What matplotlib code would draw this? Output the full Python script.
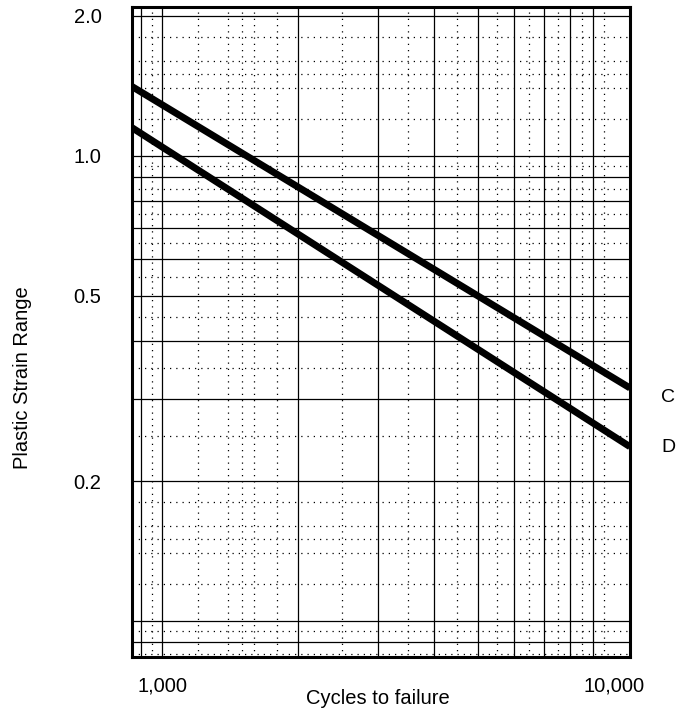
import matplotlib.pyplot as plt
import numpy as np

plt.rcParams['font.family'] = ['Liberation Sans', 'DejaVu Sans']

# curves: value at the left and right edges of the frame
cycles = [858, 10850]
curve_c = [1.41, 0.317]
curve_d = [1.15, 0.237]
curve_names = ['C', 'D']

x_ticks = [1000, 10000]
x_ticklabels = ['1,000', '10,000']
y_ticks = [0.2, 0.5, 1.0, 2.0]
y_ticklabels = ['0.2', '0.5', '1.0', '2.0']

W, H = 687, 710
fig = plt.figure(figsize=(W / 100, H / 100), dpi=100)
ax = fig.add_axes([132 / W, 1 - 657 / H, 498 / W, 650 / H])
ax.set_xscale('log')
ax.set_yscale('log')
ax.set_xlim(858, 10850)
ax.set_ylim(0.0837, 2.09)

# log grid, solid on the integer steps, dotted in between
solid_x = [k * 10 ** n for n in (2, 3) for k in range(1, 10)]
dot_x = [(k + 0.5) * 10 ** n for n in (2, 3) for k in range(1, 10)]
dot_x += [k * 10 ** n for n in (2, 3) for k in (1.2, 1.4, 1.6, 1.8)]
solid_y = [k * 10.0 ** n for n in (-2, -1, 0) for k in range(1, 10)]
dot_y = [(k + 0.5) * 10.0 ** n for n in (-2, -1, 0) for k in range(1, 10)]
dot_y += [k * 10.0 ** n for n in (-2, -1, 0) for k in (1.2, 1.4, 1.6, 1.8)]

for v in solid_x:
    ax.axvline(v, color='black', lw=0.9, zorder=1)
for v in dot_x:
    ax.axvline(v, color='black', lw=0.9, ls=(0, (1, 4)), zorder=1)
for v in solid_y:
    ax.axhline(v, color='black', lw=0.9, zorder=1)
for v in dot_y:
    ax.axhline(v, color='black', lw=0.9, ls=(0, (1, 4)), zorder=1)

label_dy = [-6.5, -0.7]
for vals, name, dy in zip([curve_c, curve_d], curve_names, label_dy):
    ax.plot(cycles, vals, color='black', lw=5, solid_capstyle='butt', zorder=3)
    ax.annotate(name, xy=(1.0, vals[-1]), xycoords=('axes fraction', 'data'),
                xytext=(27.4, dy), textcoords='offset points', ha='center', va='center',
                fontsize=14)

for s in ax.spines.values():
    s.set_linewidth(2.2)

ax.minorticks_off()
ax.set_xticks(x_ticks)
ax.set_xticklabels(x_ticklabels, fontsize=14.5)
ax.set_yticks(y_ticks)
ax.set_yticklabels(y_ticklabels, fontsize=14.5)
ax.tick_params(length=0)
ax.tick_params(axis='y', pad=22)
ax.tick_params(axis='x', pad=14)

fig.text(378 / W, 1 - 698 / H, 'Cycles to failure', ha='center', va='center', fontsize=14.5)
fig.text(23 / W, 1 - 378 / H, 'Plastic Strain Range', ha='center', va='center',
         rotation=90, fontsize=14.5)

fig.savefig('out.png', dpi=100)
